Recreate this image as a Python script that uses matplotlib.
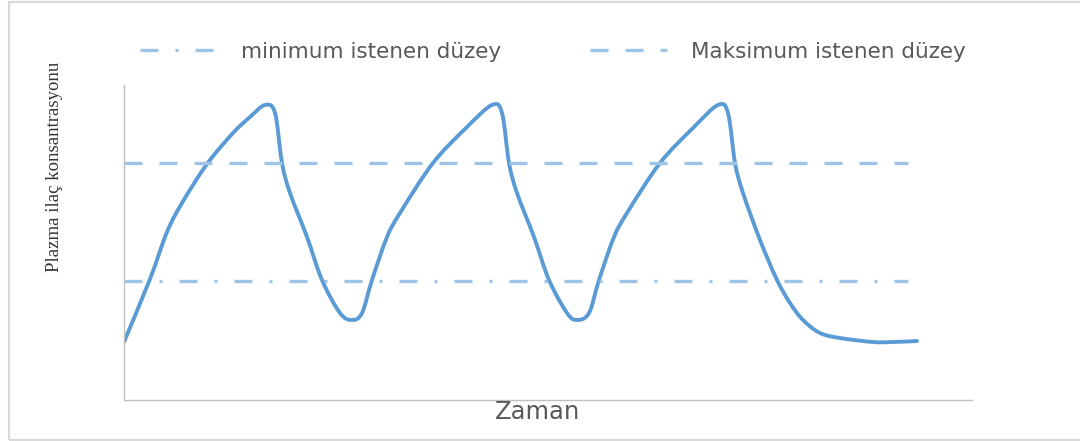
#!/usr/bin/env python

import numpy as np
import matplotlib.pyplot as plt
from matplotlib.patches import Rectangle, PathPatch
from matplotlib.path import Path

# ----------------------------------------------------------------------
# Data (arbitrary units, no ticks on the axes)
# ----------------------------------------------------------------------

zaman = [0, 26, 43, 58, 83, 109, 126, 141, 151, 158, 166, 183, 198, 216,
         228, 238, 248, 263, 276, 309, 343, 368,
         378, 385, 393, 410, 425, 443, 453, 465, 475, 490, 503, 536, 570,
         594,
         604, 611, 619, 636, 653, 666, 679, 696, 716, 749, 770, 793]

konsantrasyon = [58, 121, 168, 197, 236, 267, 283, 295, 287, 237, 207,
                 163, 120, 87, 80, 87, 120, 163, 187, 237, 273, 295,
                 287, 237, 207, 163, 120, 87, 80, 87, 120, 163, 187, 237,
                 273, 295,
                 287, 237, 207, 160, 120, 97, 80, 67, 62, 58, 58, 59]

minimum_duzey = 119
maksimum_duzey = 237
cizgi_sonu = 784

x_max = 848
y_max = 315

blue = '#5B9BD5'
light_blue = '#9DC3E6'
grey_text = '#595959'


def smooth_path(x, y):
    # smoothed line like a spreadsheet chart: bezier segments through the points
    p = np.column_stack([x, y]).astype(float)
    n = len(p)
    verts = [p[0]]
    codes = [Path.MOVETO]
    for i in range(n - 1):
        p0 = p[i - 1] if i > 0 else p[i]
        p3 = p[i + 2] if i + 2 < n else p[i + 1]
        c1 = p[i] + (p[i + 1] - p0) / 6.0
        c2 = p[i + 1] - (p3 - p[i]) / 6.0
        verts += [c1, c2, p[i + 1]]
        codes += [Path.CURVE4] * 3
    return Path(verts, codes)


if __name__ == "__main__":

    fig = plt.figure(figsize=(10.8, 4.41), dpi=100)

    # outer light frame of the chart area
    fig.patches.append(Rectangle((9 / 1080, 1.5 / 441), 1.2, 1 - 3.5 / 441,
                                 transform=fig.transFigure, fill=False,
                                 edgecolor='#D9D9D9', linewidth=1.6))

    ax = fig.add_axes([124 / 1080, 41 / 441, 848 / 1080, 315 / 441])

    # reference levels
    ax.plot([0, cizgi_sonu], [minimum_duzey, minimum_duzey], color=light_blue,
            lw=2.4, dashes=(5.4, 5.1, 0.9, 5.1), label='minimum istenen düzey')
    ax.plot([0, cizgi_sonu], [maksimum_duzey, maksimum_duzey], color=light_blue,
            lw=2.4, dashes=(5.4, 5.1), label='Maksimum istenen düzey')

    # concentration curve
    curve = PathPatch(smooth_path(zaman, konsantrasyon), facecolor='none',
                      edgecolor=blue, lw=2.8, capstyle='round',
                      joinstyle='round', transform=ax.transData)
    ax.add_patch(curve)

    ax.set_xlim(0, x_max)
    ax.set_ylim(0, y_max)
    ax.set_xticks([])
    ax.set_yticks([])
    for side in ['top', 'right']:
        ax.spines[side].set_visible(False)
    for side in ['left', 'bottom']:
        ax.spines[side].set_color('#BFBFBF')
        ax.spines[side].set_linewidth(1.0)

    handles, labels = ax.get_legend_handles_labels()
    leg = fig.legend(handles, labels, loc='center', ncol=2,
                     bbox_to_anchor=(0.512, 1 - 52 / 441), frameon=False,
                     handlelength=3.6, handletextpad=1.1, columnspacing=4.1,
                     prop={'family': 'DejaVu Sans', 'size': 15.5})
    for t in leg.get_texts():
        t.set_color(grey_text)

    fig.text(537 / 1080, 1 - 412 / 441, 'Zaman', ha='center', va='center',
             fontsize=17.5, color=grey_text, family='DejaVu Sans')
    fig.text(55 / 1080, 1 - 167 / 441, 'Plazma ilaç konsantrasyonu',
             rotation=90, ha='center', va='center', fontsize=13.5,
             color='#333333', family='Liberation Serif')

    plotfile = 'out.png'
    print('writing : ', plotfile)
    fig.savefig(plotfile, dpi=100)
    plt.close()
